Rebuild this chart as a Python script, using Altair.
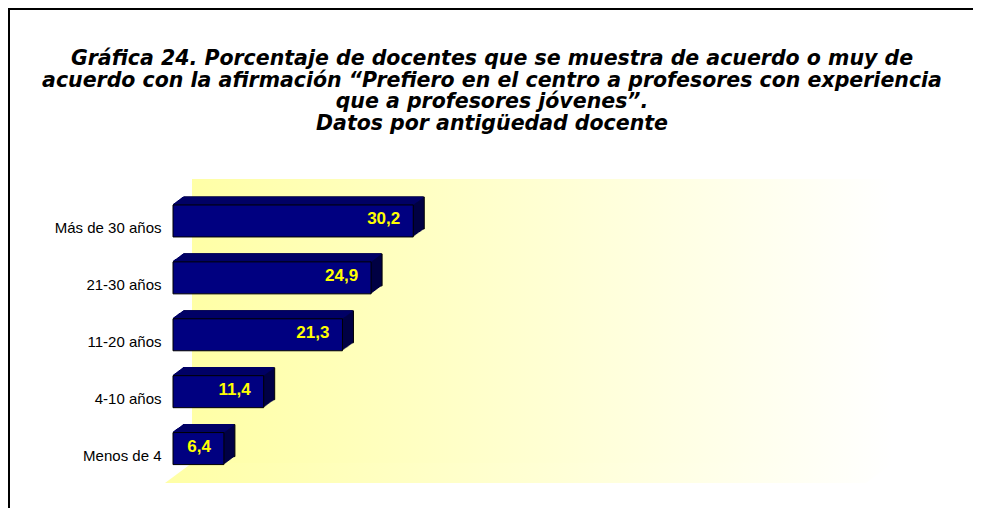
import altair as alt
import pandas as pd

# ---- data ----
categories = ["Más de 30 años", "21-30 años", "11-20 años", "4-10 años", "Menos de 4"]
values = [30.2, 24.9, 21.3, 11.4, 6.4]
title_lines = [
    "Gráfica 24. Porcentaje de docentes que se muestra de acuerdo o muy de",
    "acuerdo con la afirmación “Prefiero en el centro a profesores con experiencia",
    "que a profesores jóvenes”.",
    "Datos por antigüedad docente",
]

df = pd.DataFrame({"cat": categories, "pct": values})

# ---- styling ----
W, H = 716, 304
DX, DY, STEPS = 11, 8, 11
BAR_HALF = 16
FRONT = "#000080"
TOP = "#000066"
SIDE = "#000044"

x_scale = alt.Scale(domain=[0, 90], nice=False, zero=True)
y_scale = alt.Scale(domain=categories, paddingInner=0.4376, paddingOuter=0.39, align=0.585)

x_enc = alt.X("pct:Q", scale=x_scale, axis=None)
y_enc = alt.Y(
    "cat:N",
    scale=y_scale,
    sort=categories,
    axis=alt.Axis(
        title=None, domain=False, ticks=False, grid=False, labelFont="Liberation Sans",
        labelFontSize=15, labelColor="black", labelPadding=12, labelOffset=7,
    ),
)

grad = alt.LinearGradient(
    gradient="linear",
    stops=[alt.GradientStop(color="#FFFFA6", offset=0), alt.GradientStop(color="#FFFFFF", offset=1)],
    x1=0, x2=1, y1=0, y2=0,
)
deco = alt.Data(values=[{"k": 0}])

wall = alt.Chart(deco).mark_rect(fill=grad, strokeWidth=0).encode(
    x=alt.value(19), x2=alt.value(720), y=alt.value(0), y2=alt.value(284)
)
floor = alt.Chart(deco).mark_point(
    shape="M 19 -10 L 720 -10 L 693 10 L -8 10 Z", size=4, filled=True,
    fill=grad, opacity=1, strokeWidth=0,
).encode(x=alt.value(0), y=alt.value(294))
border = alt.Chart(deco).mark_rect(filled=False, stroke="black", strokeWidth=2).encode(
    x=alt.value(-164), x2=alt.value(900), y=alt.value(-170), y2=alt.value(400)
)
title = alt.Chart(deco).mark_text(
    text=title_lines, font="DejaVu Sans", fontSize=20.5, fontStyle="italic",
    fontWeight="bold", lineHeight=21.5, align="center", baseline="alphabetic", color="black",
).encode(x=alt.value(319), y=alt.value(-114))

layers = [wall, floor, border, title]

# extrusion (side/back) of the 3D bars
for i in range(STEPS, 0, -1):
    ox = i * DX / STEPS
    oy = -i * DY / STEPS
    kw = dict(color=SIDE, xOffset=ox, x2Offset=ox, yOffset=oy, y2Offset=oy)
    if i == STEPS:
        kw.update(stroke="black", strokeWidth=1)
    layers.append(alt.Chart(df).mark_bar(**kw).encode(x=x_enc, y=y_enc))

# top face
for i in range(0, STEPS):
    ox = i * DX / STEPS
    oy = -BAR_HALF - i * DY / STEPS - 0.5
    layers.append(
        alt.Chart(df)
        .transform_calculate(zero="0")
        .mark_rule(color=TOP, strokeWidth=1.6, xOffset=ox, x2Offset=ox, yOffset=oy)
        .encode(x=alt.X("zero:Q", scale=x_scale, axis=None), x2="pct:Q", y=y_enc)
    )

front = alt.Chart(df).mark_bar(color=FRONT, stroke="black", strokeWidth=1).encode(x=x_enc, y=y_enc)
labels = (
    alt.Chart(df)
    .transform_calculate(label="replace(format(datum.pct, '.1f'), '.', ',')")
    .mark_text(
        color="#FFFF00", font="Liberation Sans", fontWeight="bold", fontSize=17,
        align="right", baseline="middle", dx=-13, dy=-2,
    )
    .encode(x=x_enc, y=y_enc, text="label:N")
)
layers += [front, labels]

chart = (
    alt.layer(*layers)
    .properties(
        width=W,
        height=H,
        autosize=alt.AutoSizeParams(type="none"),
        padding={"left": 165, "top": 171, "right": 84, "bottom": 25},
        background="white",
    )
    .configure_view(stroke=None, strokeWidth=0, strokeOpacity=0)
)

chart.save("out.html", embed_options={"renderer": "svg", "actions": False})
